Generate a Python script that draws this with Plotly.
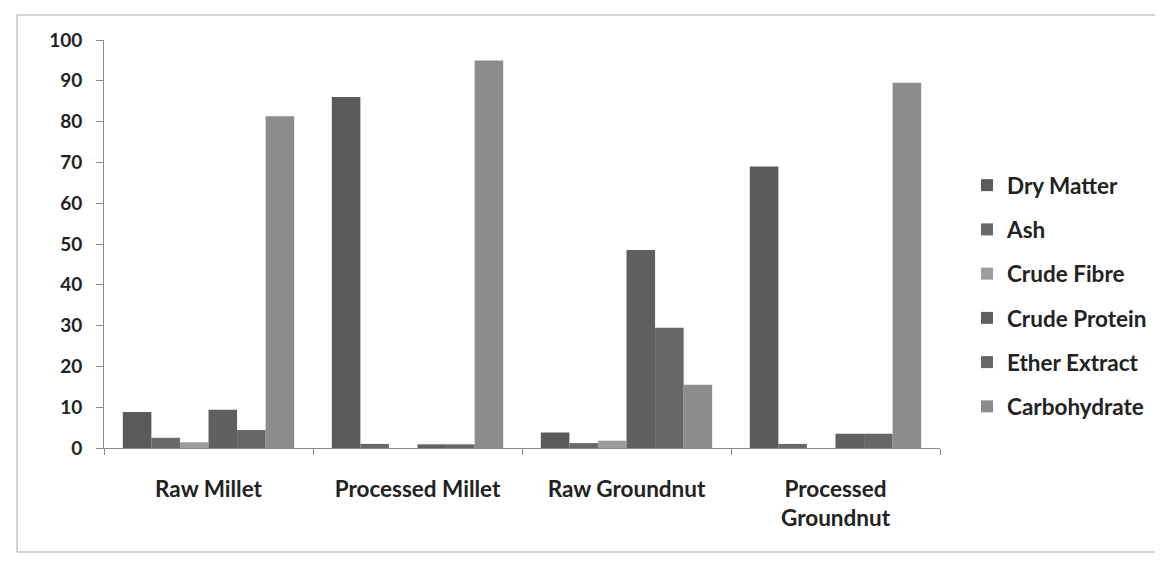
import plotly.graph_objects as go

categories = ["Raw Millet", "Processed Millet", "Raw Groundnut", "Processed<br>Groundnut"]
dry_matter = [8.8, 86.0, 3.8, 69.0]
ash = [2.5, 1.0, 1.2, 1.0]
crude_fibre = [1.4, 0.0, 1.8, 0.0]
crude_protein = [9.4, 0.9, 48.5, 3.5]
ether_extract = [4.4, 0.9, 29.5, 3.5]
carbohydrate = [81.3, 95.0, 15.5, 89.5]

series_names = ["Dry Matter", "Ash", "Crude Fibre", "Crude Protein", "Ether Extract", "Carbohydrate"]
series_values = [dry_matter, ash, crude_fibre, crude_protein, ether_extract, carbohydrate]
series_colors = ["#5a5a5a", "#686868", "#9c9c9c", "#606060", "#666666", "#8c8c8c"]

y_ticks = list(range(0, 101, 10))

fig = go.Figure()
for i, (name, vals, col) in enumerate(zip(series_names, series_values, series_colors)):
    fig.add_trace(go.Bar(
        x=categories, y=vals, name=name, marker_color=col,
        marker_line_width=0, legendgroup=f"g{i}",
    ))

font_family = "Lato, 'Open Sans', sans-serif"

# page is rendered with an 8px body offset
L, T, B = 96, 32, 124
PW = 836
PH = 408

fig.update_layout(
    width=1163, height=564,
    margin=dict(l=L, r=1163 - L - PW, t=T, b=B),
    paper_bgcolor="white", plot_bgcolor="white",
    barmode="group", bargap=0.18, bargroupgap=0,
    font=dict(family=font_family, size=17, color="#222222"),
    showlegend=True,
    legend=dict(
        x=(967 - 8 - L) / PW, y=(440 - (296 - 8)) / PH, xanchor="left", yanchor="middle",
        font=dict(size=22.5, color="#222222", family=font_family, weight="bold"),
        tracegroupgap=12, itemwidth=30,
        bgcolor="rgba(0,0,0,0)",
    ),
    xaxis=dict(
        showline=True, linecolor="#8a8a8a", linewidth=1,
        ticks="outside", ticklen=6, tickcolor="#8a8a8a",
        tickson="boundaries",
        tickfont=dict(size=22.5, family=font_family, color="#222222", weight="bold"),
        ticklabelstandoff=21,
        showgrid=False,
    ),
    yaxis=dict(
        range=[0, 100], tickvals=y_ticks,
        showline=True, linecolor="#8a8a8a", linewidth=1,
        ticks="outside", ticklen=7, tickcolor="#8a8a8a",
        tickfont=dict(size=19, family=font_family, color="#222222", weight="bold"),
        ticklabelstandoff=10,
        showgrid=False, zeroline=False,
    ),
    shapes=[dict(
        type="rect", xref="paper", yref="paper",
        x0=(9 - L) / PW, x1=(1160 - L) / PW,
        y0=(440 - 544) / PH, y1=(440 - 7) / PH,
        line=dict(color="#aaaaaa", width=1), fillcolor="rgba(0,0,0,0)",
        layer="below",
    )],
)

fig.write_html("out.html")
